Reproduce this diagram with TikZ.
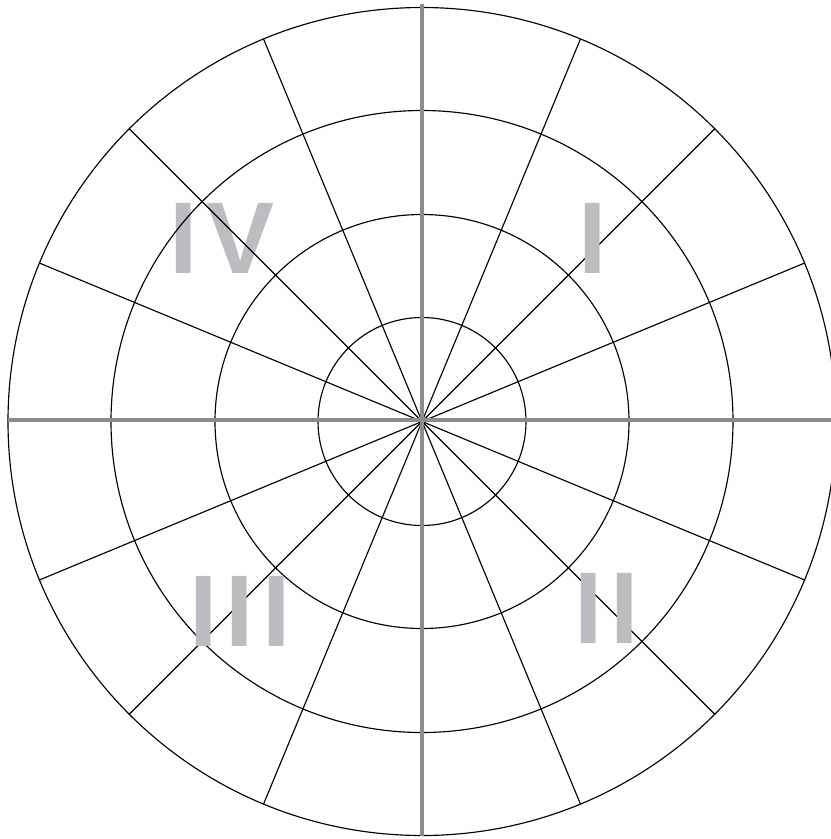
\documentclass[tikz,border=0pt]{standalone}
\usepackage{fontspec}
\setmainfont{Liberation Sans}
\usepackage{xcolor}
\definecolor{axisgrey}{HTML}{8C8C8E}
\definecolor{numgrey}{HTML}{BCBDC0}
\begin{document}
\begin{tikzpicture}[
  x=0.02cm, y=-0.02cm,
  ring/.style={draw=black, line width=0.65pt},
  spoke/.style={draw=black, line width=0.65pt},
  axisline/.style={draw=axisgrey, line width=2.3pt},
  numeral/.style={text=numgrey, inner sep=0pt, font=\fontsize{58}{58}\selectfont\bfseries\addfontfeature{LetterSpace=8}}
]
\useasboundingbox (0,0) rectangle (831,839);
\clip (0,0) rectangle (831,839);
\coordinate (c) at (422,421.5);
% quadrant IV sits under the lines
\node[numeral] (qIV) at (222,238) {IV};
% rings and spokes
\foreach \r in {104,207,311,414}
  \draw[ring] (c) circle[radius=\r*0.02cm];
\foreach \k in {1,2,3,5,6,7,9,10,11,13,14,15}
  \draw[spoke] (c) -- ++(\k*22.5:414);
% axes
\coordinate (xl) at (8,420);  \coordinate (xr) at (831,420);
\coordinate (yt) at (422,4);  \coordinate (yb) at (422,836);
\draw[axisline] (xl) -- (xr);
\draw[axisline] (yt) -- (yb);
% quadrant labels
\node[numeral] (qI) at (593,238) {I};
\node[numeral] (qII) at (607,608) {II};
\node[numeral] (qIII) at (240,611) {III};
\end{tikzpicture}
\end{document}
